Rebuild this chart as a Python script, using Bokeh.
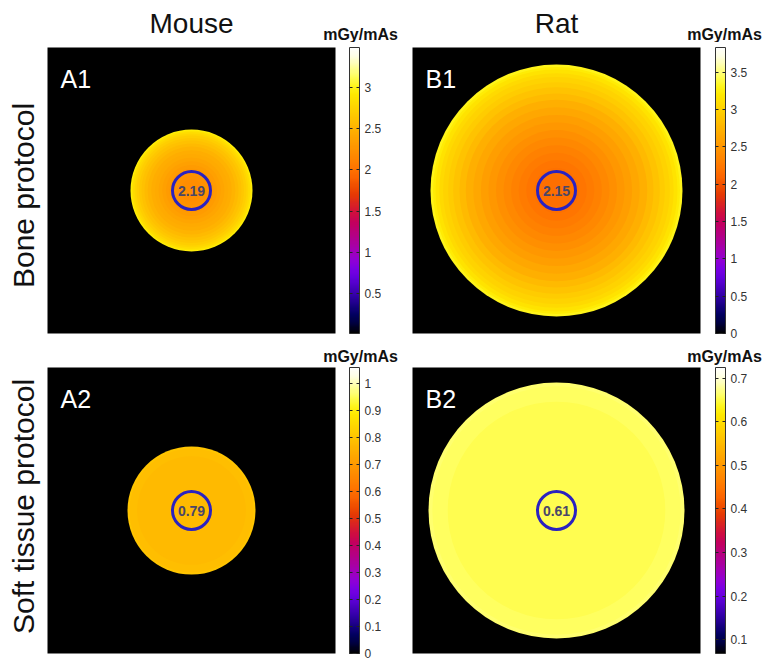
import numpy as np
from bokeh.plotting import figure
from bokeh.layouts import column, row
from bokeh.models import (Range1d, LinearColorMapper, ColorBar, FixedTicker, Label,
                          ColumnDataSource, CustomJSTickFormatter)
from bokeh.core.properties import value
from bokeh.embed import file_html
from bokeh.resources import INLINE

# ---------------- data ----------------
column_titles = ["Mouse", "Rat"]
row_titles = ["Bone protocol", "Soft tissue protocol"]
panel_ids = ["A1", "B1", "A2", "B2"]
unit_label = "mGy/mAs"

# phantom radius in image pixels
phantom_radius = [61, 126, 64, 128]

# radial profile: fraction of phantom radius (outer -> inner) and dose (mGy/mAs)
ring_frac_bone = [1.00, 0.98, 0.96, 0.93, 0.90, 0.86, 0.82, 0.77, 0.72, 0.66, 0.60,
                  0.54, 0.48, 0.42, 0.36, 0.30, 0.24, 0.18, 0.12]
dose_A1 = [2.95, 2.88, 2.82, 2.76, 2.71, 2.66, 2.61, 2.56, 2.51, 2.47, 2.43,
           2.39, 2.35, 2.31, 2.28, 2.25, 2.23, 2.21, 2.20]
dose_B1 = [3.30, 3.22, 3.15, 3.08, 3.02, 2.95, 2.88, 2.80, 2.72, 2.64, 2.57,
           2.50, 2.43, 2.37, 2.31, 2.26, 2.22, 2.19, 2.17]
ring_frac_soft = [1.00, 0.97, 0.85]
dose_A2 = [0.80, 0.785, 0.775]
dose_B2 = [0.665, 0.66, 0.655]

roi_mean = [2.19, 2.15, 0.79, 0.61]
roi_radius = 19

cbar_low = [0.01, 0.0, 0.0, 0.068]
cbar_high = [3.49, 3.83, 1.06, 0.725]
ticks_A1 = [0.5, 1, 1.5, 2, 2.5, 3]
ticks_B1 = [0, 0.5, 1, 1.5, 2, 2.5, 3, 3.5]
ticks_A2 = [0, 0.1, 0.2, 0.3, 0.4, 0.5, 0.6, 0.7, 0.8, 0.9, 1]
ticks_B2 = [0.1, 0.2, 0.3, 0.4, 0.5, 0.6, 0.7]

# ---------------- style: ImageJ "Fire" lookup table ----------------
fire_r = [0, 0, 1, 25, 49, 73, 98, 122, 146, 162, 173, 184, 195, 207, 217, 229, 240, 252,
          255, 255, 255, 255, 255, 255, 255, 255, 255, 255, 255, 255, 255, 255]
fire_g = [0, 0, 0, 0, 0, 0, 0, 0, 0, 0, 0, 0, 0, 14, 35, 57, 79, 101, 117, 133, 147, 161,
          175, 190, 205, 219, 234, 248, 255, 255, 255, 255]
fire_b = [0, 61, 96, 130, 165, 192, 220, 227, 210, 181, 151, 122, 93, 64, 35, 5, 0, 0, 0,
          0, 0, 0, 0, 0, 0, 0, 0, 35, 98, 160, 223, 255]
_src = np.linspace(0, 1, 32)
_dst = np.linspace(0, 1, 256)
FIRE = ["#%02x%02x%02x" % (int(round(r)), int(round(g)), int(round(b)))
        for r, g, b in zip(np.interp(_dst, _src, fire_r),
                           np.interp(_dst, _src, fire_g),
                           np.interp(_dst, _src, fire_b))]

# ---------------- layout constants ----------------
FONT = "Liberation Sans"
TOTAL_W = 763
FRAME_W, FRAME_H = 288, 286
STRIP_W = 44                       # left strip holding the row titles
border_lr = {0: (3, 46), 1: (31, 63)}
HDR1_H, HDR2_H = 42, 22
border_tb = {0: (5, 10), 1: (2, 8)}
row_h = {r: border_tb[r][0] + FRAME_H + border_tb[r][1] for r in (0, 1)}
frame_center_x = [STRIP_W + border_lr[0][0] + FRAME_W / 2,
                  STRIP_W + sum(border_lr[0]) + FRAME_W + border_lr[1][0] + FRAME_W / 2]
CB_OFFSET = [302, 303]             # colour bar left edge, relative to frame left
CB_W = 10
unit_center_x = [frame_center_x[0] - FRAME_W / 2 + CB_OFFSET[0] + CB_W / 2 + 6,
                 frame_center_x[1] - FRAME_W / 2 + CB_OFFSET[1] + CB_W / 2 + 4]
row_title_x = 23
row_title_y = [border_tb[0][0] + FRAME_H / 2, border_tb[1][0] + FRAME_H / 2 - 6]

panels = [
    dict(pid="A1", col=0, row=0, frac=ring_frac_bone, dose=dose_A1, ticks=ticks_A1),
    dict(pid="B1", col=1, row=0, frac=ring_frac_bone, dose=dose_B1, ticks=ticks_B1),
    dict(pid="A2", col=0, row=1, frac=ring_frac_soft, dose=dose_A2, ticks=ticks_A2),
    dict(pid="B2", col=1, row=1, frac=ring_frac_soft, dose=dose_B2, ticks=ticks_B2),
]


def blank_strip(w, h):
    s = figure(frame_width=w, frame_height=h, min_border=0,
               x_range=Range1d(0, w), y_range=Range1d(h, 0),
               output_backend="svg", toolbar_location=None,
               x_axis_location=None, y_axis_location=None,
               background_fill_color="white", border_fill_color="white",
               outline_line_color=None)
    s.grid.visible = False
    return s


def make_panel(i, d):
    left, right = border_lr[d["col"]]
    top, bottom = border_tb[d["row"]]
    p = figure(frame_width=FRAME_W, frame_height=FRAME_H,
               min_border_left=left, min_border_right=right,
               min_border_top=top, min_border_bottom=bottom,
               x_range=Range1d(0, FRAME_W), y_range=Range1d(0, FRAME_H),
               output_backend="svg", toolbar_location=None,
               x_axis_location=None, y_axis_location=None,
               background_fill_color="black", border_fill_color="white",
               outline_line_color=None)
    p.grid.visible = False

    mapper = LinearColorMapper(palette=FIRE, low=cbar_low[i], high=cbar_high[i])
    cx, cy = FRAME_W / 2, FRAME_H / 2
    R = phantom_radius[i]
    src = ColumnDataSource(dict(
        x=[cx] * len(d["frac"]), y=[cy] * len(d["frac"]),
        r=[R * f for f in d["frac"]], dose=d["dose"]))
    p.circle(x="x", y="y", radius="r", source=src,
             fill_color={"field": "dose", "transform": mapper}, line_color=None)

    # ROI
    p.circle(x=[cx], y=[cy], radius=roi_radius, fill_color=None,
             line_color="#2a22c0", line_width=3)
    p.add_layout(Label(x=cx, y=cy, text=f"{roi_mean[i]:.2f}", text_align="center",
                       text_baseline="middle", text_font=FONT, text_font_style="bold",
                       text_font_size="14px", text_color="#4a4668"))

    # panel id
    p.add_layout(Label(x=13, y=FRAME_H - 31.5, text=d["pid"], text_color="white",
                       text_font=FONT, text_font_size="25px", text_baseline="alphabetic"))

    # colour bar
    cb = ColorBar(color_mapper=mapper, location=(CB_OFFSET[d["col"]], 0),
                  width=CB_W, height=FRAME_H, padding=0, margin=0, title=None,
                  ticker=FixedTicker(ticks=d["ticks"]),
                  formatter=CustomJSTickFormatter(code="return tick.toString();"),
                  major_label_text_font=FONT, major_label_text_font_size="12px",
                  major_label_text_color="#333333", label_standoff=5,
                  major_tick_in=CB_W, major_tick_out=0, major_tick_line_color="#222222",
                  major_tick_line_dash="3 4", minor_tick_line_color=None,
                  bar_line_color="#333333", bar_line_width=1,
                  border_line_color=None, background_fill_color=None)
    p.add_layout(cb, "center")
    return p


# header strip: column titles and colour-bar units of the first row
hdr1 = blank_strip(TOTAL_W, HDR1_H)
hdr1.text(x=frame_center_x, y=[23, 23], text=column_titles,
          text_align="center", text_baseline="middle",
          text_font=value(FONT), text_font_size="28px", text_color="#111111")
hdr1.text(x=unit_center_x, y=[34, 34], text=[unit_label, unit_label],
          text_align="center", text_baseline="middle",
          text_font=value(FONT), text_font_style="bold", text_font_size="16px",
          text_color="#111111")

# strip between the rows: colour-bar units of the second row
hdr2 = blank_strip(TOTAL_W, HDR2_H)
hdr2.text(x=unit_center_x, y=[13, 13], text=[unit_label, unit_label],
          text_align="center", text_baseline="middle",
          text_font=value(FONT), text_font_style="bold", text_font_size="16px",
          text_color="#111111")

# left strips: row titles (rotated)
strips = []
for r in (0, 1):
    s = blank_strip(STRIP_W, row_h[r])
    s.text(x=[row_title_x], y=[row_title_y[r]], text=[row_titles[r]], angle=np.pi / 2,
           text_align="center", text_baseline="middle",
           text_font=value(FONT), text_font_size="30px",
           text_color="#111111")
    strips.append(s)

figs = [make_panel(i, d) for i, d in enumerate(panels)]
layout = column(hdr1, row(strips[0], figs[0], figs[1]), hdr2,
                row(strips[1], figs[2], figs[3]))

open("out.html", "w").write(file_html(layout, INLINE))
